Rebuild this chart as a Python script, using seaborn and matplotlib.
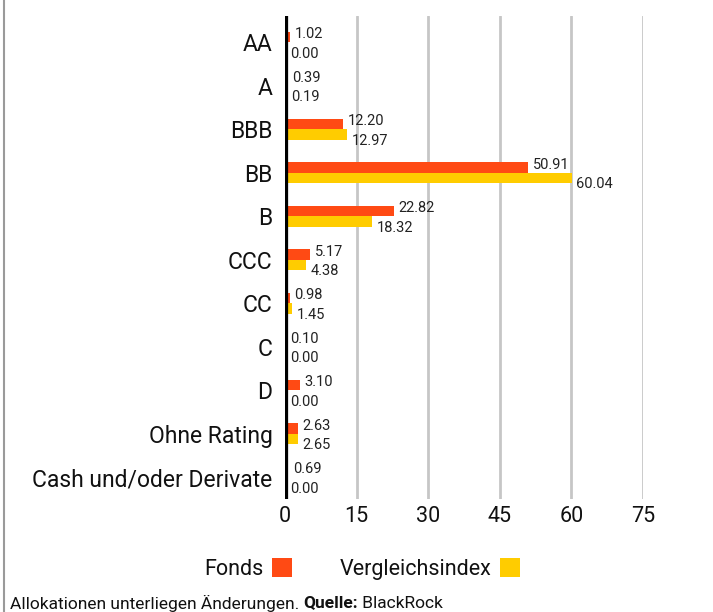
import matplotlib
matplotlib.use("Agg")
import matplotlib.pyplot as plt
from matplotlib.patches import Patch
from matplotlib.lines import Line2D
import seaborn as sns
import pandas as pd

categories = ["AA", "A", "BBB", "BB", "B", "CCC", "CC", "C", "D", "Ohne Rating", "Cash und/oder Derivate"]
fonds = [1.02, 0.39, 12.20, 50.91, 22.82, 5.17, 0.98, 0.10, 3.10, 2.63, 0.69]
index_vals = [0.00, 0.19, 12.97, 60.04, 18.32, 4.38, 1.45, 0.00, 0.00, 2.65, 0.00]
series_names = ["Fonds", "Vergleichsindex"]
x_ticks = [0, 15, 30, 45, 60, 75]
colors = ["#FF4A14", "#FFCC00"]

df = pd.DataFrame({
    "Kategorie": categories * 2,
    "Wert": fonds + index_vals,
    "Serie": [series_names[0]] * len(categories) + [series_names[1]] * len(categories),
})

sns.set_theme(style="white")
plt.rcParams["font.family"] = ["Roboto", "DejaVu Sans"]

fig = plt.figure(figsize=(7.13, 6.12), dpi=100)
ax = fig.add_axes([285 / 713, 1 - 499 / 612, (643 - 285) / 713, (499 - 16) / 612])

sns.barplot(data=df, y="Kategorie", x="Wert", hue="Serie", order=categories,
            hue_order=series_names, palette=colors, orient="h", width=0.48,
            gap=0, dodge=True, ax=ax, legend=False, saturation=1, linewidth=0,
            errorbar=None)

ax.set_xlim(0, 75)
ax.set_ylim(10.5, -0.6)
ax.set_xticks(x_ticks)
ax.set_xticklabels([str(t) for t in x_ticks], fontsize=15.5, color="#111111")
ax.tick_params(axis="x", length=0, pad=5)
ax.tick_params(axis="y", length=0, pad=9, labelsize=16.5, labelcolor="#111111")
ax.set_xlabel("")
ax.set_ylabel("")
for s in ax.spines.values():
    s.set_visible(False)

for t in x_ticks[1:]:
    ax.axvline(t, color="#c6c6c6", lw=2, zorder=0)
ax.axvline(0, color="black", lw=4.5, zorder=5)

# value labels
for i, cont in enumerate(ax.containers):
    for bar, val in zip(cont, [fonds, index_vals][i]):
        yc = bar.get_y() + bar.get_height() / 2
        dy = 2 if i == 0 else -4.5
        ax.annotate(f"{val:.2f}", xy=(val, yc), xytext=(3.5, dy),
                    textcoords="offset points", ha="left", va="center",
                    fontsize=10.5, color="#222222")

handles = [Patch(facecolor=c, edgecolor="none") for c in colors]
fig.legend(handles, series_names, loc="center", bbox_to_anchor=(0.508, 1 - 569 / 612),
           ncol=2, frameon=False, markerfirst=False, fontsize=15.5,
           handlelength=0.95, handleheight=0.95, handletextpad=0.4,
           columnspacing=2.2, labelcolor="#111111")

# footer
t1 = fig.text(10 / 713, 1 - 603 / 612, "Allokationen unterliegen Änderungen. ",
              fontsize=12.5, color="#111111", va="center", ha="left")
t2 = ax.annotate("Quelle:", xy=(1, 0.5), xycoords=t1, va="center", ha="left",
                 fontsize=12.5, fontweight="bold", color="#111111", annotation_clip=False)
t3 = ax.annotate(" BlackRock", xy=(1, 0.5), xycoords=t2, va="center", ha="left",
                 fontsize=12.5, color="#111111", annotation_clip=False)

# left frame line
fig.add_artist(Line2D([3.5 / 713, 3.5 / 713], [0, 1], transform=fig.transFigure,
                      color="#9a9a9a", lw=1.5))

fig.savefig("out.png", dpi=100)
